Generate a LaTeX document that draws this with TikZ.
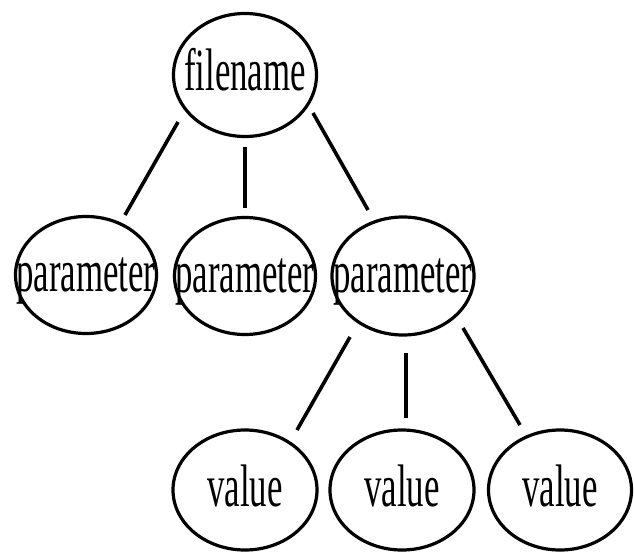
\documentclass[tikz,border=0pt]{standalone}
\usepackage{fontspec}
\setmainfont{Liberation Serif}
\usetikzlibrary{shapes.geometric,calc}
\newcommand{\lbltext}[1]{\makebox[0pt]{\scalebox{0.58}[1]{\fontsize{60}{60}\selectfont #1}}}
\tikzset{
  oval/.style={ellipse, draw=black, line width=3.2pt, inner sep=0pt, outer sep=0pt,
    text height=40pt, text depth=8pt, font=\fontsize{60}{60}\selectfont},
  link/.style={draw=black, line width=3.6pt}
}
\begin{document}
\begin{tikzpicture}[x=1pt, y=-1pt]
\useasboundingbox (0,0) rectangle (634,553);
\node[oval, minimum width=143pt, minimum height=123pt] (f) at (245,75) {\lbltext{filename}};
\node[oval, minimum width=141pt, minimum height=117pt] (p1) at (86,275) {\lbltext{parameter}};
\node[oval, minimum width=141pt, minimum height=117pt] (p2) at (245,276) {\lbltext{parameter}};
\node[oval, minimum width=142pt, minimum height=118pt] (p3) at (403,276) {\lbltext{parameter}};
\node[oval, minimum width=144pt, minimum height=120pt] (v1) at (245,490) {\lbltext{value}};
\node[oval, minimum width=144pt, minimum height=120pt] (v2) at (402,490) {\lbltext{value}};
\node[oval, minimum width=143pt, minimum height=120pt] (v3) at (560,490) {\lbltext{value}};
\draw[link] ($(f)+(-67,47)$) -- ($(p1)+(39,-60)$);
\draw[link] ($(f)+(0,72)$) -- ($(p2)+(0,-68)$);
\draw[link] ($(f)+(68,38)$) -- ($(p3)+(-35,-66)$);
\draw[link] ($(p3)+(-53,61)$) -- ($(v1)+(52,-60)$);
\draw[link] ($(p3)+(3,77)$) -- ($(v2)+(4,-72)$);
\draw[link] ($(p3)+(60,52)$) -- ($(v3)+(-40,-65)$);
\end{tikzpicture}
\end{document}
